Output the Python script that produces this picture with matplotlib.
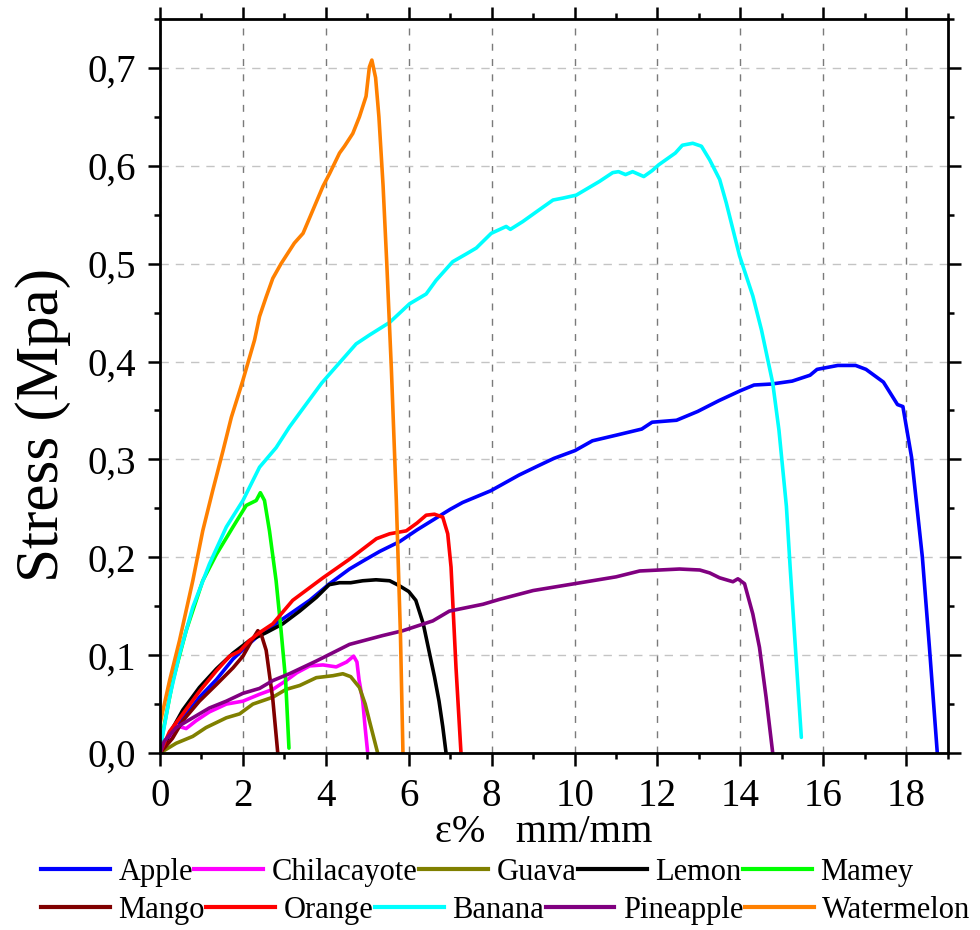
import matplotlib
matplotlib.use("Agg")
import matplotlib.pyplot as plt
from matplotlib.ticker import MultipleLocator, FuncFormatter
from matplotlib.lines import Line2D

plt.rcParams['font.family'] = ['Liberation Serif', 'DejaVu Serif']
plt.rcParams['mathtext.fontset'] = 'stix'

names = ["Apple", "Chilacayote", "Guava", "Lemon", "Mamey",
         "Mango", "Orange", "Banana", "Pineapple", "Watermelon"]
colors = ["#0000FF", "#FF00FF", "#808000", "#000000", "#00FF00",
          "#800000", "#FF0000", "#00FFFF", "#800080", "#FF8000"]

apple_x = [0, 0.3, 0.55, 0.95, 1.36, 1.76, 2.16, 2.4, 2.96, 3.61, 4.09, 4.57, 4.89, 5.3, 5.78, 6.2, 6.62, 7.0, 7.3,
           7.98, 8.66, 9.1, 9.5, 10.01, 10.43, 11.03, 11.62, 11.87, 12.46, 12.97, 13.48, 13.99, 14.33, 14.75,
           15.25, 15.68, 15.85, 16.35, 16.78, 17.03, 17.45, 17.79, 17.92, 18.13, 18.39, 18.56, 18.75]
apple_y = [0, 0.02, 0.035, 0.057, 0.075, 0.096, 0.112, 0.121, 0.137, 0.156, 0.173, 0.188, 0.196, 0.206, 0.216, 0.228,
           0.239, 0.249, 0.256, 0.268, 0.284, 0.293, 0.301, 0.309, 0.319, 0.325, 0.331, 0.338, 0.340, 0.349, 0.360,
           0.370, 0.376, 0.377, 0.380, 0.386, 0.392, 0.396, 0.396, 0.392, 0.379, 0.356, 0.354, 0.302, 0.2, 0.108, 0.0]

chila_x = [0, 0.2, 0.39, 0.63, 0.87, 1.19, 1.6, 2.0, 2.4, 2.72, 3.04, 3.3, 3.61, 3.93, 4.25, 4.5, 4.67, 4.75, 4.8,
           4.89, 4.95, 5.01]
chila_y = [0, 0.015, 0.028, 0.025, 0.033, 0.042, 0.05, 0.053, 0.06, 0.065, 0.074, 0.082, 0.089, 0.090, 0.088, 0.093,
           0.099, 0.093, 0.075, 0.053, 0.025, 0.0]

guava_x = [0, 0.39, 0.79, 1.11, 1.6, 1.92, 2.24, 2.72, 3.04, 3.37, 3.77, 4.17, 4.41, 4.6, 4.81, 4.95, 5.05, 5.25]
guava_y = [0, 0.01, 0.017, 0.026, 0.036, 0.04, 0.05, 0.057, 0.065, 0.069, 0.077, 0.079, 0.081, 0.078, 0.067, 0.05,
           0.033, 0.0]

lemon_x = [0, 0.3, 0.55, 0.95, 1.36, 1.76, 2.16, 2.56, 2.96, 3.37, 3.77, 4.08, 4.33, 4.6, 4.89, 5.21, 5.54, 5.77,
           6.0, 6.17, 6.35, 6.49, 6.62, 6.73, 6.82, 6.9]
lemon_y = [0, 0.025, 0.044, 0.067, 0.086, 0.102, 0.115, 0.123, 0.132, 0.145, 0.159, 0.172, 0.174, 0.174, 0.176,
           0.177, 0.176, 0.171, 0.165, 0.156, 0.132, 0.104, 0.078, 0.053, 0.027, 0.0]

mamey_x = [0, 0.03, 0.31, 0.63, 1.03, 1.36, 1.76, 2.08, 2.32, 2.42, 2.52, 2.64, 2.8, 2.92, 3.03, 3.11]
mamey_y = [0, 0.013, 0.074, 0.125, 0.176, 0.203, 0.231, 0.253, 0.258, 0.266, 0.258, 0.227, 0.176, 0.125, 0.074,
           0.005]

mango_x = [0, 0.3, 0.55, 0.95, 1.36, 1.76, 2.0, 2.2, 2.36, 2.45, 2.56, 2.72, 2.84]
mango_y = [0, 0.015, 0.033, 0.053, 0.07, 0.087, 0.099, 0.114, 0.125, 0.12, 0.105, 0.055, 0.0]

orange_x = [0, 0.23, 0.55, 0.95, 1.36, 1.68, 1.92, 2.16, 2.4, 2.72, 3.2, 3.93, 4.57, 5.22, 5.54, 5.94, 6.2, 6.42,
            6.62, 6.82, 6.94, 7.02, 7.14, 7.26]
orange_y = [0, 0.022, 0.04, 0.063, 0.084, 0.099, 0.104, 0.115, 0.123, 0.132, 0.156, 0.179, 0.198, 0.219, 0.224,
            0.227, 0.235, 0.243, 0.244, 0.241, 0.224, 0.19, 0.087, 0.0]

banana_x = [0, 0.03, 0.23, 0.47, 0.79, 1.19, 1.6, 2.0, 2.4, 2.8, 3.12, 3.5, 3.9, 4.21, 4.73, 5.05, 5.54, 6.02, 6.42,
            6.66, 7.06, 7.39, 7.63, 7.99, 8.35, 8.45, 8.75, 9.08, 9.48, 9.72, 10.04, 10.28, 10.6, 10.92, 11.06,
            11.23, 11.4, 11.67, 11.87, 12.03, 12.43, 12.6, 12.85, 13.06, 13.26, 13.5, 13.66, 13.82, 13.98, 14.3,
            14.51, 14.68, 14.78, 14.93, 15.11, 15.2, 15.3, 15.47]
banana_y = [0, 0.01, 0.057, 0.101, 0.149, 0.193, 0.231, 0.258, 0.292, 0.312, 0.333, 0.355, 0.378, 0.393, 0.418,
            0.427, 0.44, 0.459, 0.469, 0.483, 0.502, 0.51, 0.516, 0.531, 0.538, 0.535, 0.543, 0.553, 0.565, 0.567,
            0.57, 0.576, 0.584, 0.593, 0.594, 0.591, 0.594, 0.589, 0.595, 0.601, 0.613, 0.621, 0.623, 0.62, 0.606,
            0.586, 0.562, 0.535, 0.508, 0.467, 0.432, 0.398, 0.378, 0.33, 0.252, 0.19, 0.125, 0.016]

pine_x = [0, 0.1, 0.39, 0.79, 1.19, 1.6, 2.0, 2.4, 2.72, 3.12, 3.77, 4.57, 5.37, 5.86, 6.58, 6.98, 7.79, 8.19, 9.0,
          10.0, 11.0, 11.57, 12.05, 12.53, 13.02, 13.26, 13.5, 13.82, 13.94, 14.1, 14.3, 14.46, 14.62, 14.78]
pine_y = [0, 0.012, 0.026, 0.036, 0.046, 0.053, 0.061, 0.066, 0.074, 0.081, 0.094, 0.111, 0.12, 0.125, 0.135,
          0.145, 0.152, 0.157, 0.166, 0.173, 0.18, 0.186, 0.187, 0.188, 0.187, 0.184, 0.179, 0.175, 0.178, 0.173,
          0.142, 0.108, 0.057, 0.0]

water_x = [0.0, 0.23, 0.47, 0.79, 1.03, 1.27, 1.52, 1.72, 1.92, 2.0, 2.28, 2.4, 2.56, 2.72, 2.92, 3.24, 3.45, 3.69,
           3.93, 4.09, 4.33, 4.45, 4.65, 4.81, 4.97, 5.05, 5.11, 5.2, 5.28, 5.38, 5.47, 5.58, 5.7, 5.8, 5.86]
water_y = [0.03, 0.074, 0.115, 0.176, 0.227, 0.268, 0.309, 0.343, 0.37, 0.381, 0.422, 0.446, 0.466, 0.485, 0.5,
           0.521, 0.531, 0.555, 0.579, 0.592, 0.613, 0.62, 0.633, 0.65, 0.671, 0.701, 0.708, 0.69, 0.65, 0.58, 0.5,
           0.393, 0.258, 0.12, 0.0]

series = [(apple_x, apple_y), (chila_x, chila_y), (guava_x, guava_y), (lemon_x, lemon_y), (mamey_x, mamey_y),
          (mango_x, mango_y), (orange_x, orange_y), (banana_x, banana_y), (pine_x, pine_y), (water_x, water_y)]

fig = plt.figure(figsize=(9.8, 9.3), dpi=100)
ax = fig.add_axes([0.1633, 0.1903, 0.967 - 0.1633, 0.9796 - 0.1903])

LW = 2.6
for (xs, ys), c, n in zip(series, colors, names):
    ax.plot(xs, ys, color=c, lw=LW, label=n, solid_joinstyle='round', solid_capstyle='round')

ax.set_xlim(0, 19.0)
ax.set_ylim(0, 0.75)
ax.xaxis.set_major_locator(MultipleLocator(2))
ax.xaxis.set_minor_locator(MultipleLocator(1))
ax.yaxis.set_major_locator(MultipleLocator(0.1))
ax.yaxis.set_minor_locator(MultipleLocator(0.05))
ax.yaxis.set_major_formatter(FuncFormatter(lambda v, p: f"{v:.1f}".replace('.', ',')))

ax.grid(True, which='major', axis='x', color='#7a7a7a', linestyle=(0, (5, 6)), lw=1.0)
ax.grid(True, which='major', axis='y', color='#c4c4c4', linestyle=(0, (6, 5)), lw=1.0)
ax.set_axisbelow(True)

for s in ax.spines.values():
    s.set_linewidth(2.0)
ax.tick_params(which='both', direction='out', top=True, right=True, width=1.8, labelsize=28)
ax.tick_params(which='major', length=9)
ax.tick_params(which='minor', length=4.5)
ax.tick_params(axis='x', pad=9)
ax.tick_params(axis='y', pad=8)

ax.set_ylabel("Stress (Mpa)", fontsize=44, va='center')
ax.yaxis.set_label_coords(-0.148, 0.447)
ax.set_xlabel("ε%   mm/mm", fontsize=29, va='top')
ax.xaxis.set_label_coords(0.487, -0.083)

row1 = [Line2D([], [], color=colors[i], lw=3) for i in range(5)]
row2 = [Line2D([], [], color=colors[i], lw=3) for i in range(5, 10)]
kw = dict(ncol=5, frameon=False, fontsize=22, handlelength=2.25, handletextpad=0.28,
          columnspacing=0.05, borderpad=0, borderaxespad=0, loc='center left')
fig.legend(row1, names[:5], bbox_to_anchor=(0.042, 1 - 872 / 930), **kw)
fig.legend(row2, names[5:], bbox_to_anchor=(0.042, 1 - 910 / 930), **kw)

fig.savefig("out.png", dpi=100)
